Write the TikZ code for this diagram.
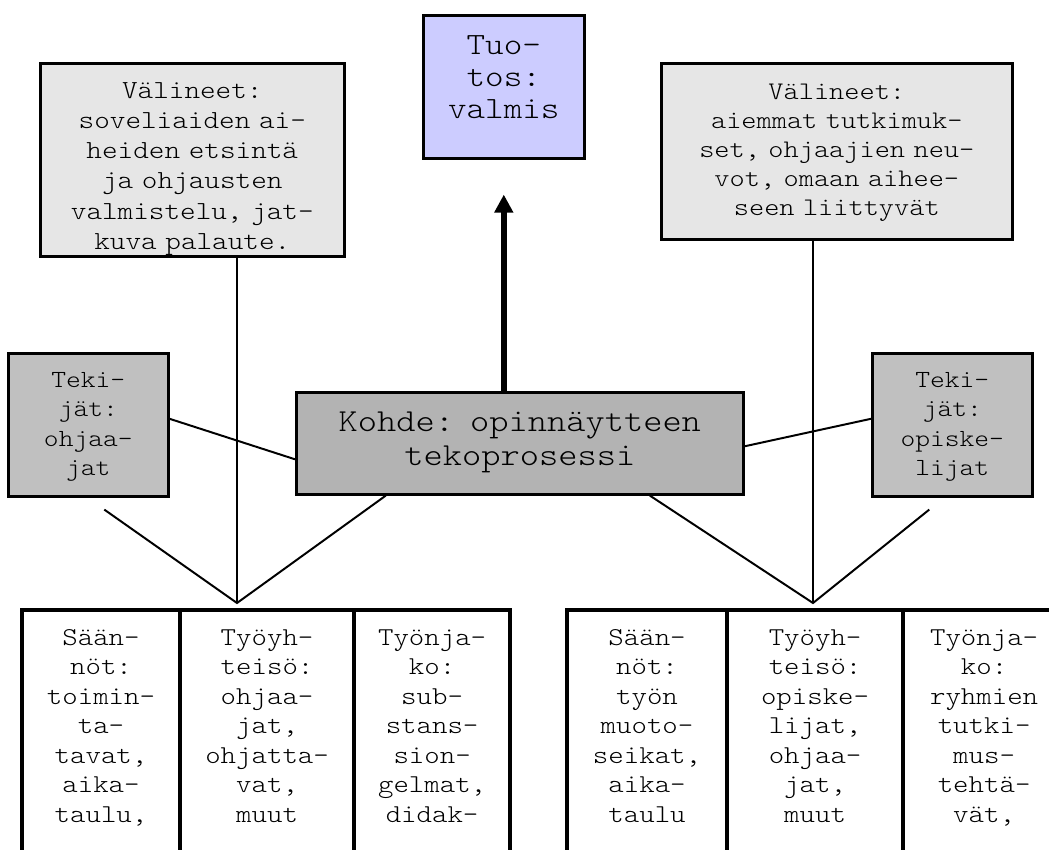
\documentclass[tikz,border=0pt]{standalone}
\usepackage{fontspec}
\setmainfont{Latin Modern Mono Light}[FakeStretch=1.143]
\usetikzlibrary{arrows.meta,calc,positioning}

\definecolor{tuotosvari}{HTML}{CCCCFF}
\definecolor{valinevari}{HTML}{E6E6E6}
\definecolor{tekijavari}{HTML}{C0C0C0}
\definecolor{kohdevari}{HTML}{B3B3B3}

\begin{document}
\begin{tikzpicture}[
		x=0.025cm, y=-0.025cm,
		laatikko/.style={draw, line width=1.8pt, inner sep=0pt, align=center, anchor=north west},
		tekija/.style={laatikko, fill=tekijavari, text width=4cm, text height=0.85cm, text depth=2.725cm,
			font=\fontsize{17.5}{21}\selectfont},
		solu/.style={draw, line width=2.8pt, inner sep=0pt, outer sep=0pt, align=center,
			text height=0.875cm, text depth=5.875cm, font=\fontsize{18.3}{21}\selectfont},
		yhteys/.style={line width=1.4pt},
		nuoli/.style={-{Triangle[length=0.45cm, width=0.45cm]}, line width=4.3pt, shorten >=0.875cm},
	]
	\path[use as bounding box, clip] (0,0) rectangle (1049,849);
	
	\node[laatikko, fill=tuotosvari, text width=4.025cm, text height=0.975cm, text depth=2.6cm,
		font=\fontsize{22}{22.8}\selectfont] (tuotos) at (422,14) {Tuo-\\tos:\\valmis};
	
	\node[laatikko, fill=valinevari, text width=7.6cm, text height=0.875cm, text depth=3.95cm,
		font=\fontsize{18.5}{21.5}\selectfont] (valL) at (39,62)
		{Välineet:\\soveliaiden ai-\\heiden etsintä\\ja ohjausten\\valmistelu, jat-\\kuva palaute.};
	\node[laatikko, fill=valinevari, text width=8.775cm, text height=0.9cm, text depth=3.5cm,
		font=\fontsize{18}{20.7}\selectfont] (valR) at (660,62)
		{Välineet:\\aiemmat tutkimuk-\\set, ohjaajien neu-\\vot, omaan aihee-\\seen liittyvät};
	
	\node[tekija] (tekL) at (7,352) {Teki-\\jät:\\ohjaa-\\jat};
	\node[tekija] (tekR) at (871,352) {Teki-\\jät:\\opiske-\\lijat};
	
	\node[laatikko, fill=kohdevari, text width=11.175cm, text height=0.975cm, text depth=1.575cm,
		font=\fontsize{22.8}{24.5}\selectfont] (kohde) at (295,391) {Kohde: opinnäytteen\\tekoprosessi};
	
	% alarivi: säännöt, työyhteisö, työnjako
	\node[solu, anchor=north west, text width=3.95cm] (saantoL) at (22,610)
		{Sään-\\nöt:\\toimin-\\ta-\\tavat,\\aika-\\taulu,};
	\node[solu, right=0pt of saantoL, text width=4.35cm] (yhteisoL)
		{Työyh-\\teisö:\\ohjaa-\\jat,\\ohjatta-\\vat,\\muut};
	\node[solu, right=0pt of yhteisoL, text width=3.9cm] (jakoL)
		{Työnja-\\ko:\\sub-\\stans-\\sion-\\gelmat,\\didak-};
	
	\node[solu, anchor=north west, text width=4cm] (saantoR) at (567,610)
		{Sään-\\nöt:\\työn\\muoto-\\seikat,\\aika-\\taulu};
	\node[solu, right=0pt of saantoR, text width=4.4cm] (yhteisoR)
		{Työyh-\\teisö:\\opiske-\\lijat,\\ohjaa-\\jat,\\muut};
	\node[solu, right=0pt of yhteisoR, text width=4.05cm] (jakoR)
		{Työnja-\\ko:\\ryhmien\\tutki-\\mus-\\tehtä-\\vät,};
	
	\coordinate (jL) at (237,603);
	\coordinate (jR) at (813,603);
	
	\draw[nuoli] (tuotos.south |- kohde.north) -- (tuotos.south);
	
	\draw[yhteys] (valL.south -| jL) -- (jL);
	\draw[yhteys] (valR.south -| jR) -- (jR);
	\draw[yhteys] ($(tekL.east)+(0,-6)$) -- ($(kohde.west)+(0,16)$);
	\draw[yhteys] ($(kohde.east)+(0,3)$) -- ($(tekR.west)+(0,-6)$);
	\draw[yhteys] ($(tekL.south)+(16,12)$) -- (jL) -- ($(kohde.south)+(-134,0)$);
	\draw[yhteys] ($(kohde.south)+(130,0)$) -- (jR) -- ($(tekR.south)+(-23,12)$);
\end{tikzpicture}
\end{document}
